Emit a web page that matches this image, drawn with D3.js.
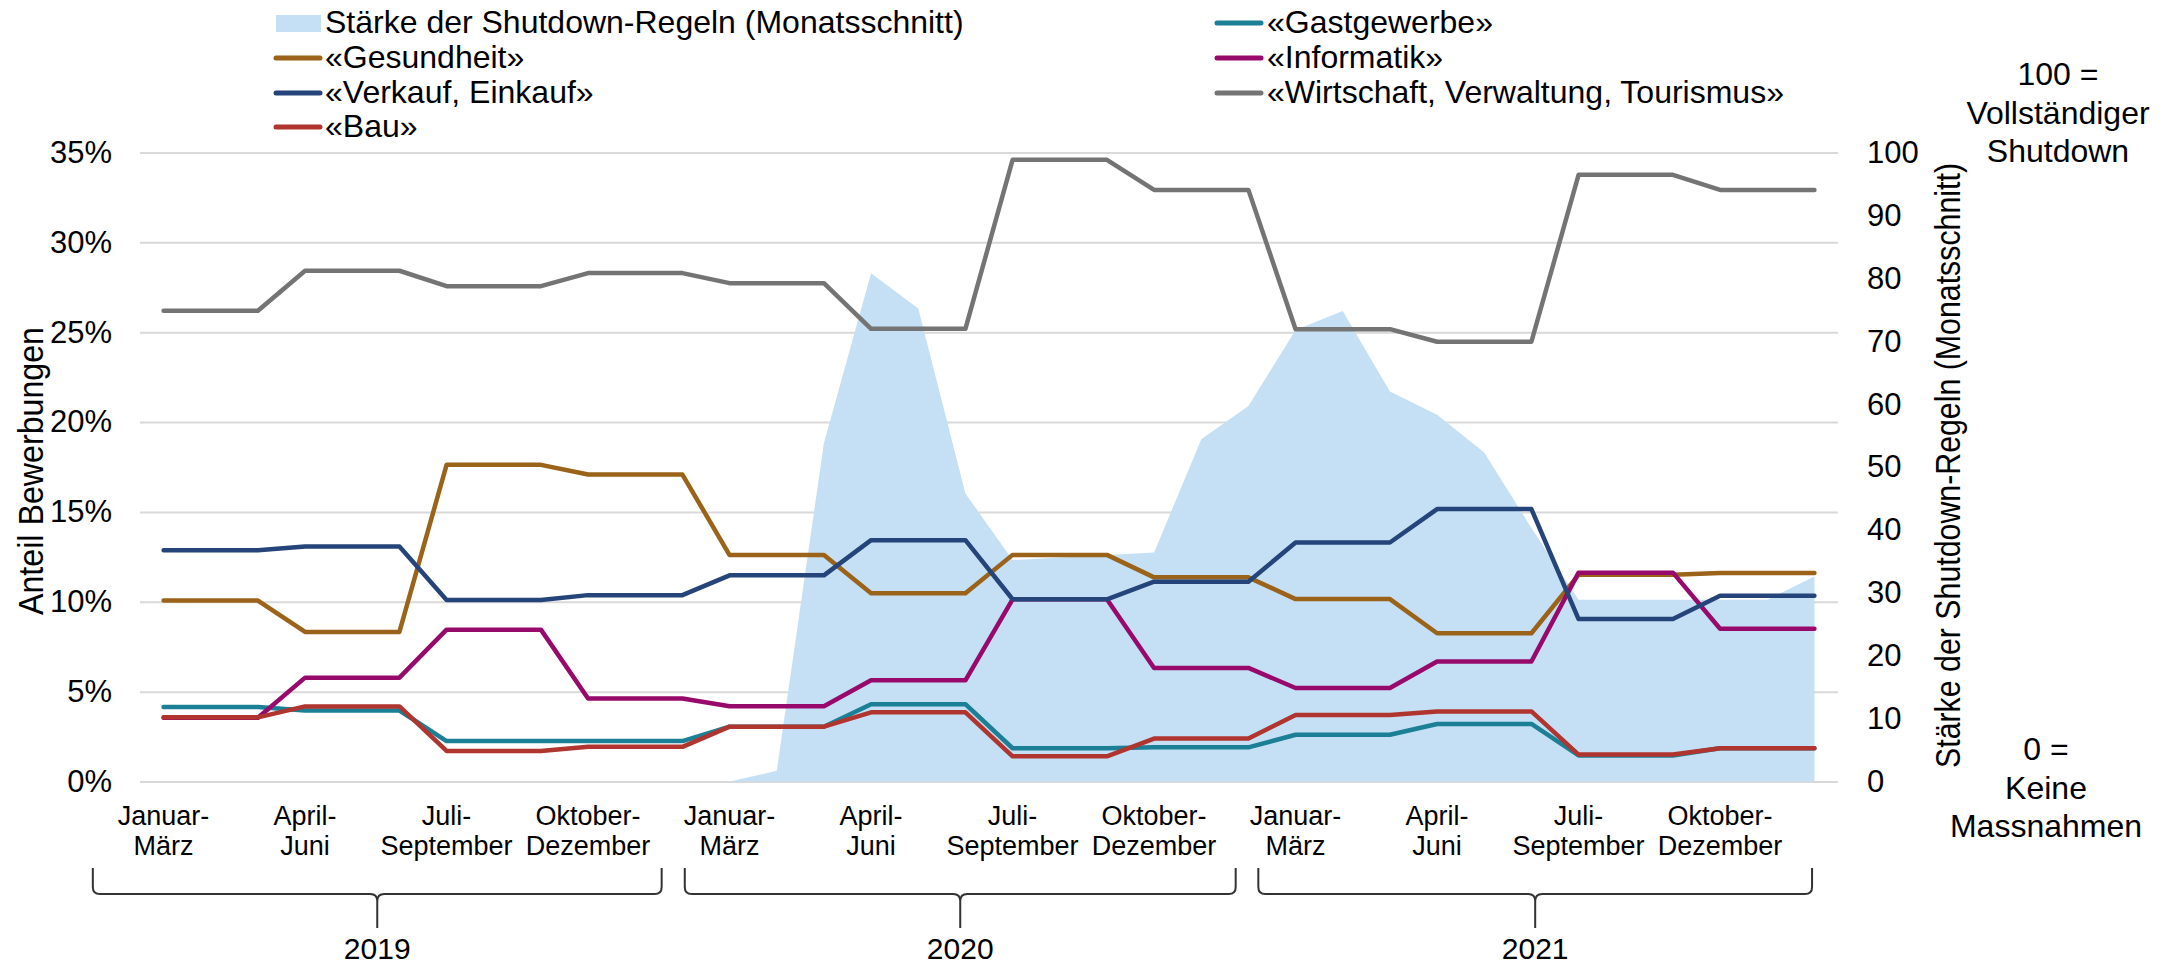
<!DOCTYPE html>
<html><head><meta charset="utf-8">
<script src="https://cdn.jsdelivr.net/npm/d3@7"></script>
<style>
body{margin:0;background:#fff}
svg{display:block}
text{font-family:"Liberation Sans",Arial,Helvetica,sans-serif;fill:#000}
</style>
</head><body>
<svg id="chart" width="2170" height="964"></svg>
<script>
// ---------------- DATA ----------------
const years = ["2019", "2020", "2021"];
const quarterLabels = [["Januar-", "März"], ["April-", "Juni"], ["Juli-", "September"], ["Oktober-", "Dezember"]];
// 36 monthly categories (x axis)
const months = [];
years.forEach(y => { for (let m = 1; m <= 12; m++) months.push(y + "-" + String(m).padStart(2, "0")); });

// quarterly shares of applications (%), 2019 Q1 ... 2021 Q4
const gastgewerbe = [4.15, 3.95, 2.25, 2.25, 3.05, 4.30, 1.85, 1.90, 2.60, 3.20, 1.45, 1.85];
const gesundheit  = [10.07, 8.32, 17.62, 17.08, 12.60, 10.47, 12.61, 11.36, 10.15, 8.25, 11.50, 11.60];
const informatik  = [3.55, 5.78, 8.45, 4.62, 4.19, 5.63, 10.14, 6.32, 5.20, 6.68, 11.62, 8.50];
const verkauf     = [12.87, 13.07, 10.10, 10.37, 11.47, 13.43, 10.14, 11.12, 13.30, 15.16, 9.04, 10.33];
const wirtschaft  = [26.19, 28.42, 27.56, 28.29, 27.73, 25.19, 34.59, 32.92, 25.17, 24.47, 33.76, 32.92];
const bau         = [3.57, 4.18, 1.70, 1.93, 3.05, 3.85, 1.40, 2.39, 3.70, 3.90, 1.50, 1.85];

// monthly shutdown stringency (0-100), Jan 2020 ... Dec 2021
const shutdownMonths = months.slice(12);
const shutdown = [0, 1.7, 53.8, 80.8, 75.2, 45.8, 35.2, 35.6, 36.0, 36.4, 54.4, 59.7,
                  71.8, 74.8, 62.0, 58.3, 52.3, 40.3, 28.9, 28.9, 28.9, 28.9, 28.9, 32.6];

const pctTicks = [0, 5, 10, 15, 20, 25, 30, 35];
const idxTicks = [0, 10, 20, 30, 40, 50, 60, 70, 80, 90, 100];

const seriesNames = ["«Gastgewerbe»", "«Gesundheit»", "«Informatik»", "«Verkauf, Einkauf»", "«Wirtschaft, Verwaltung, Tourismus»", "«Bau»"];
const seriesValues = [gastgewerbe, gesundheit, informatik, verkauf, wirtschaft, bau];
const seriesColors = ["#1b7f96", "#9b6219", "#970a6c", "#254479", "#747474", "#b0352f"];
const areaName = "Stärke der Shutdown-Regeln (Monatsschnitt)";
const areaColor = "#c5e0f5";

// year brackets (in month-index units along the category axis)
const yearBrackets = [[-1.5, 10.56], [11.05, 22.73], [23.21, 34.95]];

// ---------------- LAYOUT ----------------
const svg = d3.select("#chart");
const L = 140, R = 1838, T = 152.5, B = 781.5;

const x = d3.scaleBand().domain(months).range([L, R]).padding(0);
const bw = x.bandwidth();
const xc = m => x(m) + bw / 2;
const xi = i => L + bw * (i + 0.5);
const yL = d3.scaleLinear().domain([0, 35]).range([B, T]);
const yR = d3.scaleLinear().domain([0, 100]).range([B, T]);

// gridlines
const grid = svg.append("g").attr("transform", `translate(${L},0)`)
  .call(d3.axisLeft(yL).tickValues(pctTicks).tickSize(-(R - L)).tickFormat(""));
grid.select(".domain").remove();
grid.selectAll("line").attr("stroke", "#d9d9d9").attr("stroke-width", 2);

// area
const areaData = shutdownMonths.map((m, i) => ({ m, v: shutdown[i] }));
svg.append("path").datum(areaData)
  .attr("fill", areaColor)
  .attr("d", d3.area().x(d => xc(d.m)).y0(yR(0)).y1(d => yR(d.v)));

// lines
const line = d3.line().x(d => xc(d.m)).y(d => yL(d.v));
seriesValues.forEach((vals, s) => {
  const pts = months.map((m, i) => ({ m, v: vals[Math.floor(i / 3)] }));
  svg.append("path").datum(pts)
    .attr("fill", "none").attr("stroke", seriesColors[s])
    .attr("stroke-width", 4.5).attr("stroke-linejoin", "round").attr("stroke-linecap", "round")
    .attr("d", line);
});

// left axis labels
const la = svg.append("g").attr("transform", `translate(${L},0)`)
  .call(d3.axisLeft(yL).tickValues(pctTicks).tickSize(0).tickPadding(28).tickFormat(d => d + "%"));
la.select(".domain").remove();
la.selectAll("text").attr("font-size", 31).attr("font-family", '"Liberation Sans",Arial,sans-serif').attr("fill", "#000");

// right axis labels
const ra = svg.append("g").attr("transform", `translate(${R},0)`)
  .call(d3.axisRight(yR).tickValues(idxTicks).tickSize(0).tickPadding(29));
ra.select(".domain").remove();
ra.selectAll("text").attr("font-size", 31).attr("font-family", '"Liberation Sans",Arial,sans-serif').attr("fill", "#000");

// axis titles
svg.append("text").attr("transform", "translate(43,471) rotate(-90)")
  .attr("text-anchor", "middle").attr("font-size", 35)
  .attr("textLength", 288).attr("lengthAdjust", "spacingAndGlyphs")
  .text("Anteil Bewerbungen");
svg.append("text").attr("transform", "translate(1960,465.5) rotate(-90)")
  .attr("text-anchor", "middle").attr("font-size", 35)
  .attr("textLength", 605).attr("lengthAdjust", "spacingAndGlyphs")
  .text(areaName);

// x axis quarter labels
months.forEach((m, i) => {
  if (i % 3 !== 0) return;
  const q = quarterLabels[(i / 3) % 4];
  const t = svg.append("text").attr("text-anchor", "middle").attr("font-size", 27);
  t.append("tspan").attr("x", xc(m)).attr("y", 825).text(q[0]);
  t.append("tspan").attr("x", xc(m)).attr("y", 855).text(q[1]);
});

// year brackets
const yTop = 868, yBar = 894, yTip = 928, r = 7;
yearBrackets.forEach((b, k) => {
  const x0 = xi(b[0]), x1 = xi(b[1]), xm = (x0 + x1) / 2;
  const p = `M${x0},${yTop} L${x0},${yBar - r} Q${x0},${yBar} ${x0 + r},${yBar} L${xm - r},${yBar} Q${xm},${yBar} ${xm},${yBar + r} L${xm},${yTip}`
          + ` M${xm},${yBar + r} Q${xm},${yBar} ${xm + r},${yBar} L${x1 - r},${yBar} Q${x1},${yBar} ${x1},${yBar - r} L${x1},${yTop}`;
  svg.append("path").attr("d", p).attr("fill", "none").attr("stroke", "#333").attr("stroke-width", 2);
  svg.append("text").attr("x", xm).attr("y", 959).attr("text-anchor", "middle").attr("font-size", 30).text(years[k]);
});

// legend (Excel fills row-wise in two columns)
const legendItems = [{ type: "area", name: areaName, color: areaColor }]
  .concat(seriesNames.map((n, i) => ({ type: "line", name: n, color: seriesColors[i] })));
const colSym = [276, 1217], colText = [325, 1267];
const rowBase = [33, 68, 103, 137];
legendItems.forEach((it, k) => {
  const c = k % 2, rr = Math.floor(k / 2);
  const base = rowBase[rr];
  if (it.type === "area") {
    svg.append("rect").attr("x", colSym[c]).attr("y", base - 18).attr("width", 45).attr("height", 17).attr("fill", it.color);
  } else {
    svg.append("line").attr("x1", colSym[c]).attr("x2", colSym[c] + 44)
      .attr("y1", base - 10).attr("y2", base - 10)
      .attr("stroke", it.color).attr("stroke-width", 5).attr("stroke-linecap", "round");
  }
  svg.append("text").attr("x", colText[c]).attr("y", base).attr("font-size", 32).text(it.name);
});

// right-side annotations
const noteTop = ["100 =", "Vollständiger", "Shutdown"];
const noteBottom = ["0 =", "Keine", "Massnahmen"];
noteTop.forEach((s, i) => svg.append("text").attr("x", 2058).attr("y", 85 + i * 38.5).attr("text-anchor", "middle").attr("font-size", 32).text(s));
noteBottom.forEach((s, i) => svg.append("text").attr("x", 2046).attr("y", 760 + i * 38.5).attr("text-anchor", "middle").attr("font-size", 32).text(s));
</script>
</body></html>
